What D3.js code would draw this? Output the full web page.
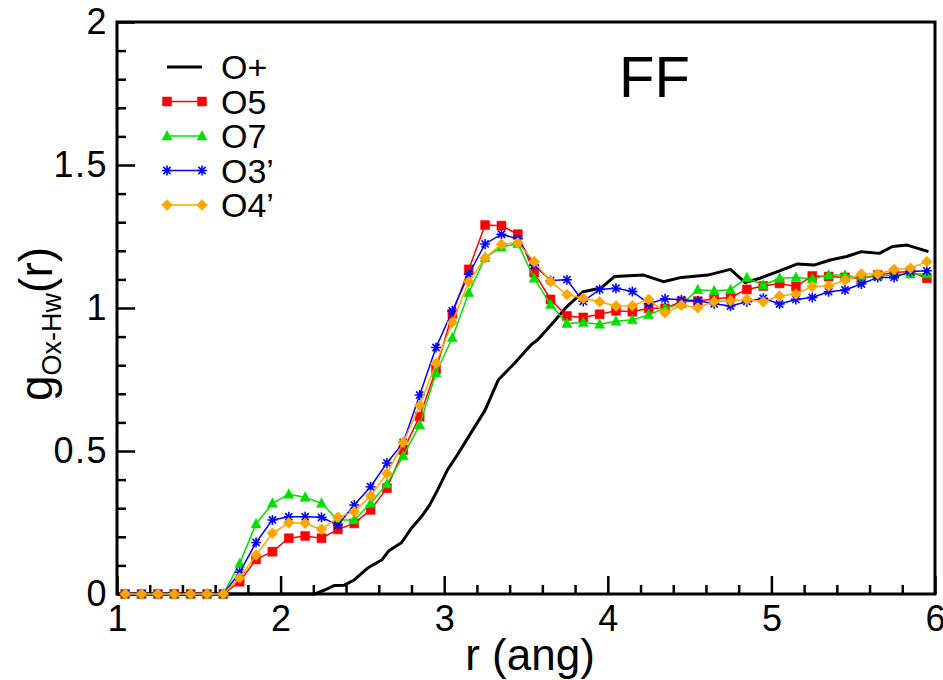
<!DOCTYPE html>
<html>
<head>
<meta charset="utf-8">
<script src="https://cdn.jsdelivr.net/npm/d3@7"></script>
<style>
  body { margin: 0; background: #fff; }
  svg { display: block; }
  text { font-family: "Liberation Sans", Arial, Helvetica, sans-serif; fill: #000; }
</style>
</head>
<body>
<svg width="943" height="680"></svg>
<script>
// r bins of the marked series
const rBins = [1.05, 1.15, 1.25, 1.35, 1.45, 1.55, 1.65, 1.75, 1.85, 1.95,
  2.05, 2.15, 2.25, 2.35, 2.45, 2.55, 2.65, 2.75, 2.85, 2.95,
  3.05, 3.15, 3.25, 3.35, 3.45, 3.55, 3.65, 3.75, 3.85, 3.95,
  4.05, 4.15, 4.25, 4.35, 4.45, 4.55, 4.65, 4.75, 4.85, 4.95,
  5.05, 5.15, 5.25, 5.35, 5.45, 5.55, 5.65, 5.75, 5.85, 5.95];

const gO5 = [0, 0, 0, 0, 0, 0, 0, 0.043, 0.121, 0.148,
  0.195, 0.203, 0.195, 0.226, 0.247, 0.294, 0.37, 0.503, 0.62, 0.785,
  0.98, 1.135, 1.29, 1.288, 1.258, 1.124, 1.03, 0.972, 0.967, 0.978,
  0.99, 0.987, 0.999, 0.999, 1.023, 1.024, 1.032, 1.037, 1.065, 1.077,
  1.086, 1.075, 1.112, 1.11, 1.107, 1.104, 1.115, 1.124, 1.128, 1.104];

const gO7 = [0, 0, 0, 0, 0, 0, 0, 0.107, 0.245, 0.317,
  0.349, 0.338, 0.317, 0.259, 0.259, 0.317, 0.385, 0.483, 0.591, 0.773,
  0.896, 1.053, 1.176, 1.213, 1.225, 1.104, 1.012, 0.946, 0.949, 0.943,
  0.954, 0.959, 0.976, 1.0, 1.014, 1.064, 1.06, 1.064, 1.106, 1.08,
  1.104, 1.107, 1.101, 1.115, 1.115, 1.104, 1.112, 1.115, 1.119, 1.119];

const gO3p = [0, 0, 0, 0, 0, 0, 0, 0.076, 0.18, 0.259,
  0.27, 0.27, 0.268, 0.241, 0.311, 0.375, 0.458, 0.53, 0.696, 0.862,
  0.99, 1.118, 1.224, 1.258, 1.242, 1.15, 1.096, 1.099, 1.023, 1.065,
  1.069, 1.058, 1.015, 1.032, 1.029, 1.025, 1.015, 1.007, 1.022, 1.034,
  1.014, 1.03, 1.037, 1.057, 1.063, 1.084, 1.107, 1.107, 1.128, 1.13];

const gO4p = [0, 0, 0, 0, 0, 0, 0, 0.057, 0.136, 0.212,
  0.249, 0.247, 0.226, 0.268, 0.288, 0.343, 0.421, 0.53, 0.659, 0.807,
  0.949, 1.092, 1.175, 1.223, 1.228, 1.162, 1.092, 1.047, 1.034, 1.022,
  1.007, 1.008, 1.03, 0.983, 1.01, 1.001, 1.023, 1.025, 1.03, 1.022,
  1.042, 1.049, 1.075, 1.077, 1.098, 1.119, 1.119, 1.135, 1.139, 1.162];

// O+ curve (no markers, finer sampling)
const rOplus = [1.0, 1.5, 2.0, 2.21, 2.27, 2.33, 2.39, 2.45, 2.53, 2.62,
  2.66, 2.74, 2.80, 2.86, 2.91, 2.96, 3.02, 3.08, 3.16, 3.25,
  3.33, 3.43, 3.53, 3.57, 3.67, 3.75, 3.85, 3.96, 4.04, 4.22,
  4.34, 4.45, 4.61, 4.75, 4.84, 4.93, 5.05, 5.16, 5.26, 5.36,
  5.46, 5.55, 5.66, 5.74, 5.83, 5.96];
const gOplus = [0, 0, 0, 0.0, 0.014, 0.03, 0.031, 0.049, 0.09, 0.12,
  0.15, 0.18, 0.23, 0.27, 0.31, 0.364, 0.434, 0.486, 0.56, 0.643,
  0.748, 0.807, 0.871, 0.888, 0.952, 1.005, 1.057, 1.07, 1.11, 1.115,
  1.092, 1.107, 1.115, 1.135, 1.089, 1.104, 1.13, 1.154, 1.15, 1.168,
  1.18, 1.197, 1.191, 1.215, 1.22, 1.197];

const seriesNames = ["O+", "O5", "O7", "O3\u2019", "O4\u2019"];
const seriesColors = ["#000000", "#ff0000", "#00e000", "#0000ff", "#ffa500"];
const seriesShapes = ["none", "square", "triangle", "star", "diamond"];

const xMajor = [1, 2, 3, 4, 5, 6];
const xMinor = [1.2, 1.4, 1.6, 1.8, 2.2, 2.4, 2.6, 2.8, 3.2, 3.4, 3.6, 3.8,
  4.2, 4.4, 4.6, 4.8, 5.2, 5.4, 5.6, 5.8];
const yMajor = [0, 0.5, 1, 1.5, 2];
const yMinor = [0.1, 0.2, 0.3, 0.4, 0.6, 0.7, 0.8, 0.9, 1.1, 1.2, 1.3, 1.4,
  1.6, 1.7, 1.8, 1.9];

const svg = d3.select("svg");

const x = d3.scaleLinear().domain([1, 6]).range([117, 935]);
const y = d3.scaleLinear().domain([0, 2]).range([594, 22]);

// ticks pointing inward
const gx = svg.append("g").attr("transform", `translate(0,${y(0)})`);
gx.call(d3.axisBottom(x).tickValues(xMinor).tickSizeInner(-9).tickSizeOuter(0).tickFormat(""));
gx.call(g => g.select(".domain").remove());
const gxMaj = svg.append("g").attr("transform", `translate(0,${y(0)})`);
gxMaj.call(d3.axisBottom(x).tickValues(xMajor).tickSizeInner(-18).tickSizeOuter(0)
  .tickPadding(11).tickFormat(d3.format("d")));
gxMaj.select(".domain").remove();
gxMaj.selectAll("text").attr("font-size", 36).attr("font-family", null);

const gy = svg.append("g").attr("transform", `translate(${x(1)},0)`);
gy.call(d3.axisLeft(y).tickValues(yMinor).tickSizeInner(-9).tickSizeOuter(0).tickFormat(""));
gy.select(".domain").remove();
const gyMaj = svg.append("g").attr("transform", `translate(${x(1)},0)`);
gyMaj.call(d3.axisLeft(y).tickValues(yMajor).tickSizeInner(-18).tickSizeOuter(0)
  .tickPadding(9).tickFormat(d => d === 0 ? "0" : d3.format("")(d)));
gyMaj.select(".domain").remove();
gyMaj.selectAll("text").attr("font-size", 36).attr("font-family", null)
  .attr("letter-spacing", 1.5);

svg.selectAll(".tick line").attr("stroke", "#000").attr("stroke-width", 2.5);

// frame
svg.append("rect")
  .attr("x", x(1)).attr("y", y(2))
  .attr("width", x(6) - x(1)).attr("height", y(0) - y(2))
  .attr("fill", "none").attr("stroke", "#000").attr("stroke-width", 3);

// marker paths
const markerPath = (shape) => {
  if (shape === "square") return "M-4.5,-4.5H4.5V4.5H-4.5Z";
  if (shape === "triangle") return "M0,-5.5L5,4L-5,4Z";
  if (shape === "diamond") return "M0,-5.5L5.5,0L0,5.5L-5.5,0Z";
  if (shape === "star") return "M0,-5V5M-5,0H5M-3.6,-3.6L3.6,3.6M-3.6,3.6L3.6,-3.6";
  return "";
};

const line = d3.line().x(d => x(d[0])).y(d => y(d[1]));
const plot = svg.append("g");

// O+ line
plot.append("path")
  .datum(rOplus.map((r, i) => [r, gOplus[i]]))
  .attr("d", line)
  .attr("fill", "none")
  .attr("stroke", seriesColors[0])
  .attr("stroke-width", 3)
  .attr("stroke-linejoin", "round");

const marked = [gO5, gO7, gO3p, gO4p];
marked.forEach((vals, k) => {
  const col = seriesColors[k + 1];
  const shape = seriesShapes[k + 1];
  const pts = rBins.map((r, i) => [r, vals[i]]);
  const g = plot.append("g");
  g.append("path")
    .datum(pts)
    .attr("d", line)
    .attr("fill", "none")
    .attr("stroke", col)
    .attr("stroke-width", 1.5);
  g.selectAll("path.mk")
    .data(pts)
    .enter()
    .append("path")
    .attr("class", "mk")
    .attr("transform", d => `translate(${x(d[0])},${y(d[1])})`)
    .attr("d", markerPath(shape))
    .attr("fill", shape === "star" ? "none" : col)
    .attr("stroke", col)
    .attr("stroke-width", shape === "star" ? 1.6 : 0.5);
});

// legend
const legend = svg.append("g").attr("transform", "translate(167,67)");
seriesNames.forEach((name, i) => {
  const row = legend.append("g").attr("transform", `translate(0,${i * 34.5})`);
  row.append("line")
    .attr("x1", 0).attr("x2", 35).attr("y1", 0).attr("y2", 0)
    .attr("stroke", seriesColors[i])
    .attr("stroke-width", i === 0 ? 3 : 1.5);
  if (seriesShapes[i] !== "none") {
    [0, 35].forEach(px => {
      row.append("path")
        .attr("transform", `translate(${px},0)`)
        .attr("d", markerPath(seriesShapes[i]))
        .attr("fill", seriesShapes[i] === "star" ? "none" : seriesColors[i])
        .attr("stroke", seriesColors[i])
        .attr("stroke-width", seriesShapes[i] === "star" ? 1.6 : 0.5);
    });
  }
  row.append("text")
    .attr("x", 54).attr("y", 12)
    .attr("font-size", 34)
    .text(name);
});

// annotation
svg.append("text")
  .attr("x", 619).attr("y", 97)
  .attr("font-size", 58)
  .text("FF");

// axis titles
svg.append("text")
  .attr("x", (x(1) + x(6)) / 2 + 4).attr("y", 670)
  .attr("text-anchor", "middle")
  .attr("font-size", 44)
  .text("r (ang)");

const yt = svg.append("text")
  .attr("transform", "translate(52,324) rotate(-90)")
  .attr("text-anchor", "middle")
  .attr("font-size", 46);
yt.append("tspan").text("g");
yt.append("tspan").attr("font-size", 27).attr("dy", 9).text("Ox-Hw");
yt.append("tspan").attr("dy", -9).text("(r)");
</script>
</body>
</html>
